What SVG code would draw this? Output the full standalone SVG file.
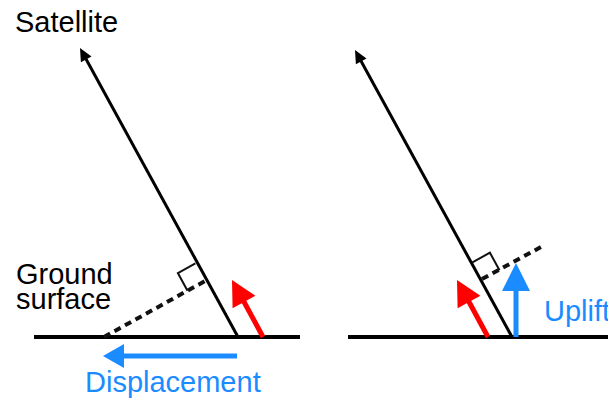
<svg xmlns="http://www.w3.org/2000/svg" width="608" height="399" viewBox="0 0 608 399">
<style>
.ground{stroke:#000;stroke-width:4;fill:none}
.sat{stroke:#000;stroke-width:3;fill:none}
.dot{stroke:#111;stroke-width:4;stroke-dasharray:7 5;fill:none}
.mark{stroke:#111;stroke-width:2;fill:none}
.red{stroke:#ff0000;stroke-width:5;fill:none}
.blue{stroke:#1a8cff;stroke-width:5;fill:none}
.lbl{font-family:"Liberation Sans",Arial,sans-serif;font-size:29px;fill:#000}
.blbl{font-family:"Liberation Sans",Arial,sans-serif;font-size:29px;fill:#1a8cff}
</style>
<g id="connectors">
<line class="ground" x1="34" y1="337" x2="300" y2="337"/>
<line class="ground" x1="348" y1="337" x2="608" y2="337"/>
<line class="sat" x1="238" y1="337" x2="86" y2="59"/>
<polygon points="80,48 91.5,56.5 80.9,62.3" fill="#000"/>
<line class="sat" x1="512" y1="337" x2="361" y2="61"/>
<polygon points="355,50 366.5,58.5 355.9,64.3" fill="#000"/>
<line class="dot" x1="104" y1="337" x2="205" y2="281"/>
<polyline class="mark" points="195.4,263.4 177.9,273.1 187.5,290.7"/>
<line class="dot" x1="482" y1="279" x2="541" y2="247"/>
<polyline class="mark" points="472.4,262.4 489.9,252.7 499.5,270.3"/>
<line class="red" x1="263" y1="337" x2="243" y2="300"/>
<polygon points="232,280 255.4,295.8 232.6,308.2" fill="#ff0000"/>
<line class="red" x1="488" y1="337" x2="468" y2="300"/>
<polygon points="457,280 480.4,295.8 457.6,308.2" fill="#ff0000"/>
<line class="blue" x1="237" y1="356" x2="120" y2="356"/>
<polygon points="103,356 124,344 124,368" fill="#1a8cff"/>
<line class="blue" x1="516" y1="337" x2="516" y2="288"/>
<polygon points="516,263 502,291 530,291" fill="#1a8cff"/>
</g>
<g id="satellite"><text class="lbl" x="15" y="32">Satellite</text></g>
<g id="ground-surface"><text class="lbl" x="16" y="284">Ground</text><text class="lbl" x="16" y="309">surface</text></g>
<g id="displacement"><text class="blbl" x="85" y="392">Displacement</text></g>
<g id="uplift"><text class="blbl" x="544" y="321">Uplift</text></g>
</svg>
